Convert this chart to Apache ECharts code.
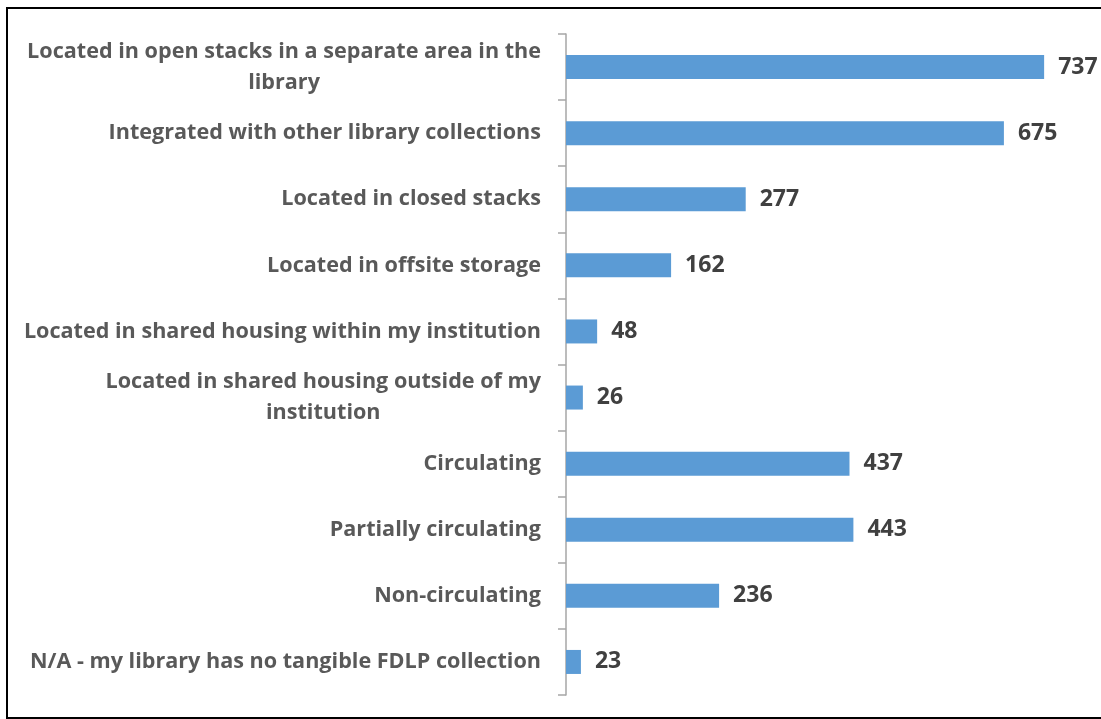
<!DOCTYPE html>
<html>
<head>
<meta charset="utf-8">
<script src="https://cdn.jsdelivr.net/npm/echarts@6/dist/echarts.min.js"></script>
<style>
    html, body { margin: 0; padding: 0; background: #fff; }
    #chart { width: 1101px; height: 719px; }
    .frame {
        position: absolute; left: 6px; top: 7px; width: 1100px; height: 708px;
        border: 2px solid #000; pointer-events: none;
    }
</style>
</head>
<body>
<div id="chart"></div>
<div class="frame"></div>
<script>
// 类别（从上到下）
var categories = [
    "Located in open stacks in a separate area in the\nlibrary",
    "Integrated with other library collections",
    "Located in closed stacks",
    "Located in offsite storage",
    "Located in shared housing within my institution",
    "Located in shared housing outside of my\ninstitution",
    "Circulating",
    "Partially circulating",
    "Non-circulating",
    "N/A - my library has no tangible FDLP collection"
];
var counts = [737, 675, 277, 162, 48, 26, 437, 443, 236, 23];

var myChart = echarts.init(document.getElementById("chart"));
var option = {
    animation: false,
    grid: { left: 566, right: 16, top: 34, bottom: 24 },
    xAxis: {
        type: "value",
        min: 0,
        max: 800,
        show: false
    },
    yAxis: {
        type: "category",
        inverse: true,
        data: categories,
        axisLine: { show: true, lineStyle: { color: "#a6a6a6", width: 1.5 } },
        axisTick: { show: true, length: 8, lineStyle: { color: "#a6a6a6", width: 1.5 } },
        axisLabel: {
            margin: 25,
            fontFamily: "Open Sans",
            fontWeight: "bold",
            fontSize: 21.6,
            color: "#595959",
            lineHeight: 31,
            // 多行标签每行居中
            formatter: function (v) {
                return v.split("\n").map(function (s) { return "{c|" + s + "}"; }).join("\n");
            },
            rich: {
                c: { align: "center", fontFamily: "Open Sans", fontWeight: "bold", fontSize: 21.6, color: "#595959", lineHeight: 31 }
            }
        }
    },
    series: [
        {
            type: "bar",
            data: counts,
            barWidth: 24,
            itemStyle: { color: "#5b9bd5" },
            label: {
                show: true,
                position: "right",
                distance: 14,
                fontFamily: "Open Sans",
                fontWeight: "bold",
                fontSize: 23,
                color: "#404040"
            }
        }
    ]
};
myChart.setOption(option);
</script>
</body>
</html>
